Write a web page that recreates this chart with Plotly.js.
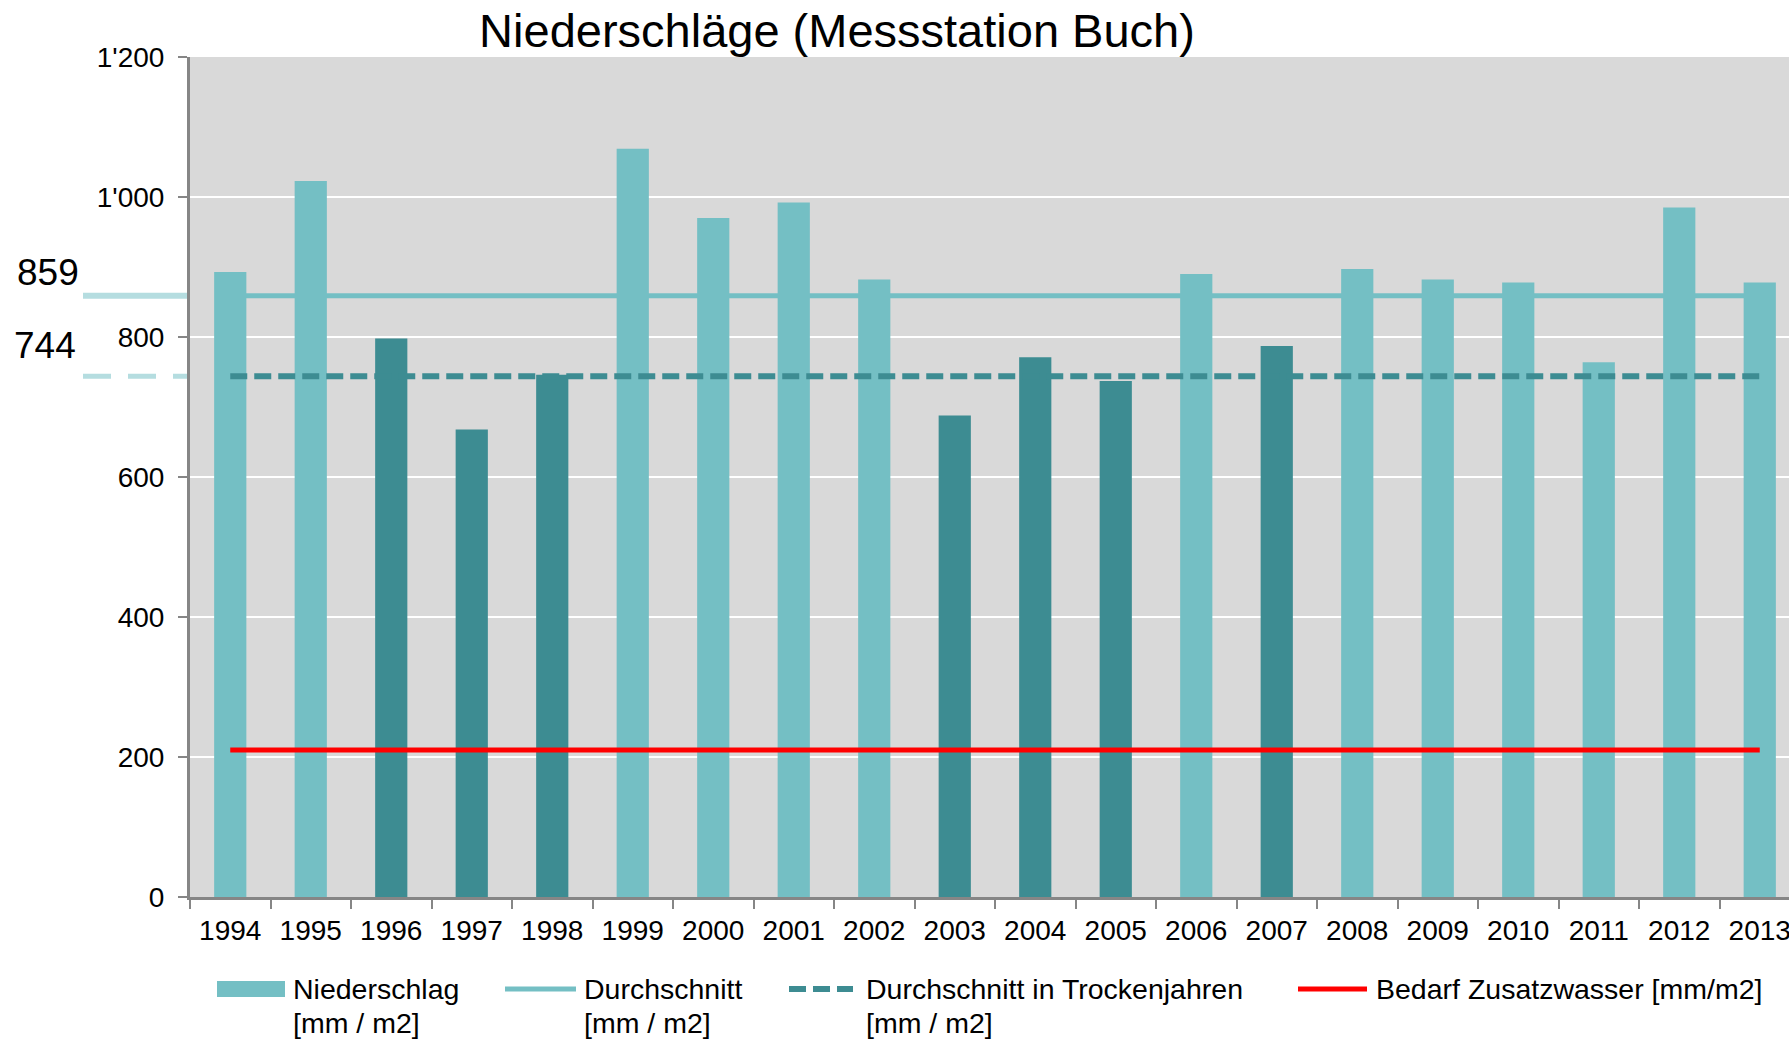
<!DOCTYPE html>
<html>
<head>
<meta charset="utf-8">
<script src="https://cdn.plot.ly/plotly-3.0.1.min.js"></script>
<style>
html, body { margin: 0; padding: 0; background: #ffffff; }
#chart { width: 1789px; height: 1039px; }
</style>
</head>
<body>
<div id="chart"></div>
<script>
// ---- data ----
const years = ['1994','1995','1996','1997','1998','1999','2000','2001','2002','2003',
               '2004','2005','2006','2007','2008','2009','2010','2011','2012','2013'];
const precipitation = [893, 1023, 798, 668, 746, 1069, 970, 992, 882, 688,
                       771, 737, 890, 787, 897, 882, 878, 764, 985, 878];
const dryYears = ['1996','1997','1998','2003','2004','2005','2007'];
const averageAll = 859;
const averageDry = 744;
const additionalWaterDemand = 210;
const yTickValues = [0, 200, 400, 600, 800, 1000, 1200];
const yTickLabels = ['0', '200', '400', '600', '800', "1'000", "1'200"];
const legendNames = ['Niederschlag', 'Durchschnitt', 'Durchschnitt in Trockenjahren', 'Bedarf Zusatzwasser [mm/m2]'];
const legendUnits = ['[mm / m2]', '[mm / m2]', '[mm / m2]', ''];
const chartTitle = 'Niederschläge (Messstation Buch)';

// ---- layout helpers ----
const W = 1789, H = 1039;
const M = { l: 190, r: 0, t: 57, b: 142 };
const PW = W - M.l - M.r, PH = H - M.t - M.b;
const px = x => (x - M.l) / PW;
const py = y => (H - M.b - y) / PH;

const LIGHT = '#74bfc4', DARK = '#3d8c92', RED = '#ff0000', PALE = '#b5dde0', AXIS = '#868686';
const FONT = 'Liberation Sans, Arial, Helvetica, sans-serif';

const first = years[0], last = years[years.length - 1];

const traces = [
  {
    type: 'bar', x: years, y: precipitation, width: 0.4,
    marker: { color: years.map(y => dryYears.includes(y) ? DARK : LIGHT) },
    name: legendNames[0], showlegend: false
  },
  {
    type: 'scatter', mode: 'lines', x: [first, last], y: [averageAll, averageAll],
    line: { color: LIGHT, width: 5 }, name: legendNames[1], showlegend: false
  },
  {
    type: 'scatter', mode: 'lines', x: [first, last], y: [averageDry, averageDry],
    line: { color: DARK, width: 6, dash: '17px,7px' }, name: legendNames[2], showlegend: false
  },
  {
    type: 'scatter', mode: 'lines', x: [first, last], y: [additionalWaterDemand, additionalWaterDemand],
    line: { color: RED, width: 5 }, name: legendNames[3], showlegend: false
  }
];

// manual legend (swatches + text) below the plot
const legendSwatchX = [[217, 285], [505, 576], [789, 853], [1298, 1367]];
const legendTextX = [291, 582, 864, 1374];
const legendRowY = [989, 1023];

const shapes = [
  // left side marker lines for the averages
  { type: 'line', xref: 'paper', yref: 'y', x0: px(83), x1: px(187), y0: averageAll, y1: averageAll,
    line: { color: PALE, width: 6 } },
  { type: 'line', xref: 'paper', yref: 'y', x0: px(83), x1: px(187), y0: averageDry, y1: averageDry,
    line: { color: PALE, width: 5, dash: '28px,17px' } },
  // legend swatches
  { type: 'rect', xref: 'paper', yref: 'paper', x0: px(legendSwatchX[0][0]), x1: px(legendSwatchX[0][1]),
    y0: py(legendRowY[0] - 8), y1: py(legendRowY[0] + 8), fillcolor: LIGHT, line: { width: 0 } },
  { type: 'line', xref: 'paper', yref: 'paper', x0: px(legendSwatchX[1][0]), x1: px(legendSwatchX[1][1]),
    y0: py(legendRowY[0]), y1: py(legendRowY[0]), line: { color: LIGHT, width: 5 } },
  { type: 'line', xref: 'paper', yref: 'paper', x0: px(legendSwatchX[2][0]), x1: px(legendSwatchX[2][1]),
    y0: py(legendRowY[0]), y1: py(legendRowY[0]), line: { color: DARK, width: 6, dash: '17px,7px' } },
  { type: 'line', xref: 'paper', yref: 'paper', x0: px(legendSwatchX[3][0]), x1: px(legendSwatchX[3][1]),
    y0: py(legendRowY[0]), y1: py(legendRowY[0]), line: { color: RED, width: 5 } }
];

const annotations = [
  { text: String(averageAll), xref: 'paper', yref: 'y', x: px(48), y: averageAll, xanchor: 'center',
    yanchor: 'middle', yshift: 23, showarrow: false, font: { size: 37, color: '#000', family: FONT } },
  { text: String(averageDry), xref: 'paper', yref: 'y', x: px(45), y: averageDry, xanchor: 'center',
    yanchor: 'middle', yshift: 31, showarrow: false, font: { size: 37, color: '#000', family: FONT } }
];
legendNames.forEach((name, i) => {
  annotations.push({ text: name, xref: 'paper', yref: 'paper', x: px(legendTextX[i]), y: py(legendRowY[0]),
    xanchor: 'left', yanchor: 'middle', showarrow: false, font: { size: 28.5, color: '#000', family: FONT } });
  if (legendUnits[i]) {
    annotations.push({ text: legendUnits[i], xref: 'paper', yref: 'paper', x: px(legendTextX[i]), y: py(legendRowY[1]),
      xanchor: 'left', yanchor: 'middle', showarrow: false, font: { size: 28.5, color: '#000', family: FONT } });
  }
});

const layout = {
  width: W, height: H,
  margin: M,
  paper_bgcolor: '#ffffff',
  plot_bgcolor: '#d9d9d9',
  font: { family: FONT, color: '#000000' },
  showlegend: false,
  title: {
    text: chartTitle, font: { size: 47, color: '#000', family: FONT },
    xref: 'paper', x: px(837), xanchor: 'center',
    yref: 'container', y: 1 - 31 / H, yanchor: 'middle'
  },
  xaxis: {
    type: 'category', range: [-0.5, -0.5 + PW / 80.5],
    tickson: 'boundaries', ticks: 'outside', ticklen: 9, tickwidth: 2, tickcolor: AXIS,
    showline: true, linecolor: AXIS, linewidth: 3, showgrid: false,
    tickfont: { size: 28, color: '#000', family: FONT }, ticklabelstandoff: 6,
    fixedrange: true
  },
  yaxis: {
    range: [0, 1200], tickvals: yTickValues, ticktext: yTickLabels,
    ticks: 'outside', ticklen: 9, tickwidth: 2, tickcolor: AXIS,
    showline: true, linecolor: AXIS, linewidth: 3,
    showgrid: true, gridcolor: '#ffffff', gridwidth: 2, zeroline: false,
    tickfont: { size: 28, color: '#000', family: FONT }, ticklabelstandoff: 8,
    fixedrange: true
  },
  shapes: shapes,
  annotations: annotations
};

Plotly.newPlot('chart', traces, layout, { displayModeBar: false, staticPlot: true });
</script>
</body>
</html>
